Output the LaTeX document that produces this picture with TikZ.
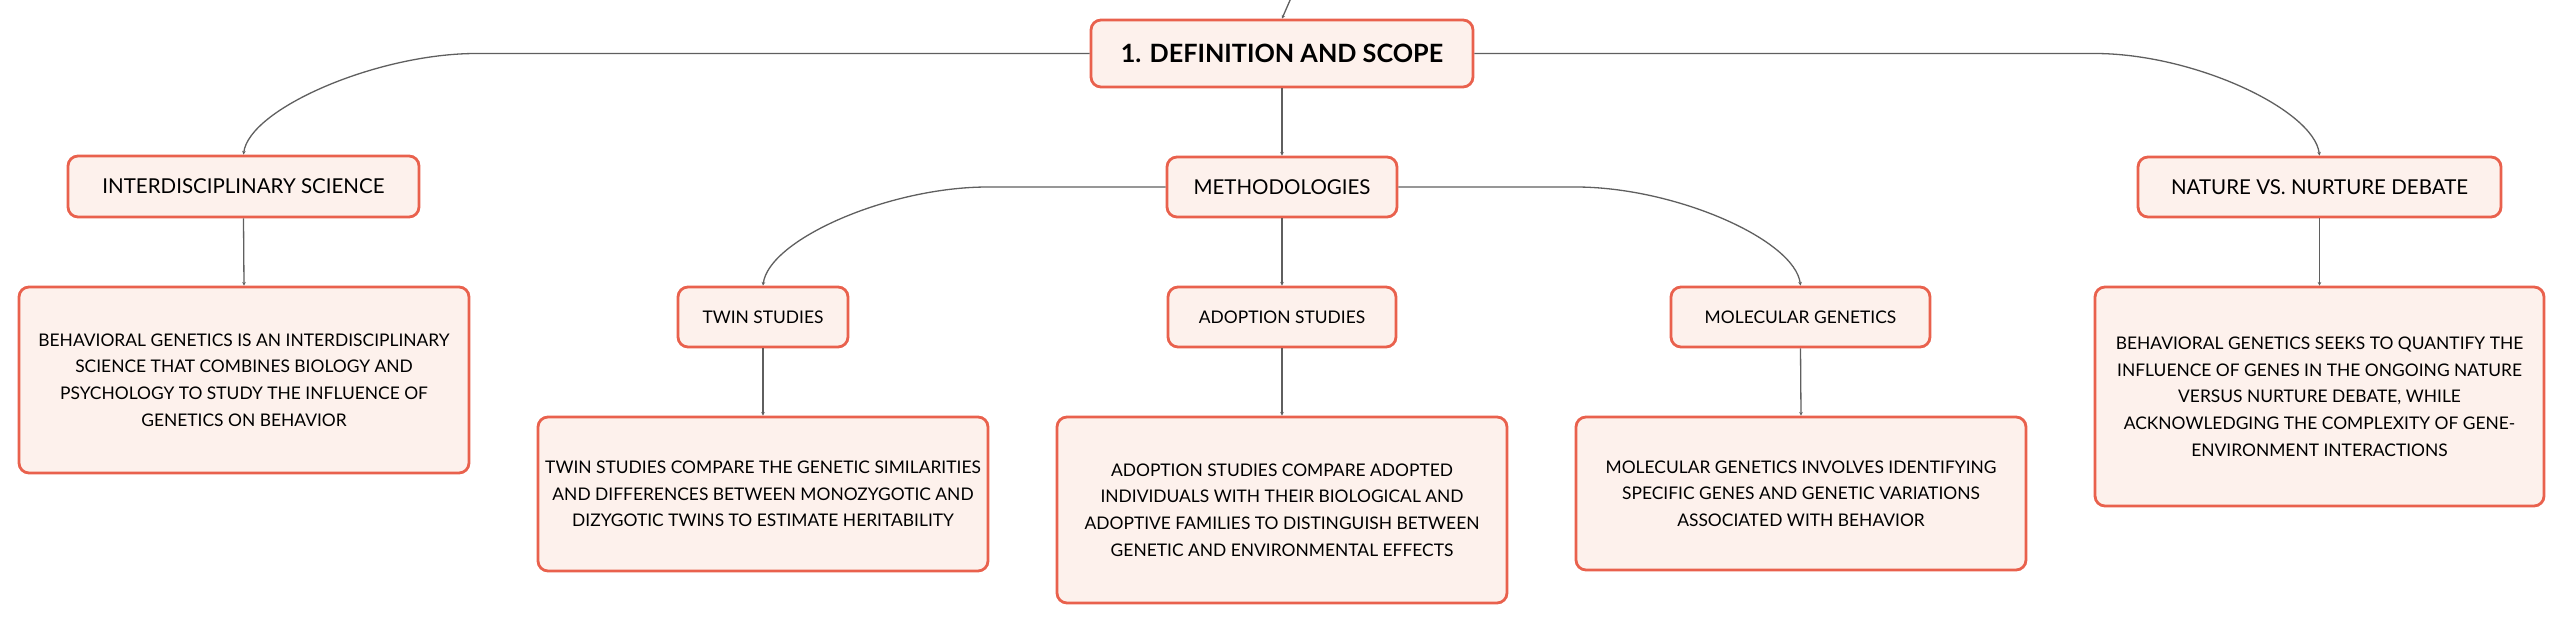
\documentclass[tikz,border=0pt]{standalone}
\usepackage{fontspec}
\setmainfont{Lato}
\usetikzlibrary{arrows.meta,calc}
\definecolor{boxline}{RGB}{233,97,77}
\definecolor{boxfill}{RGB}{253,241,236}
\definecolor{wire}{RGB}{95,95,95}
\tikzset{
  box/.style={draw=boxline, fill=boxfill, line width=1.4pt, rounded corners=5pt,
    inner sep=0pt, align=center, text=black},
  head/.style={box, font=\fontsize{10.25pt}{12pt}\selectfont},
  desc/.style={box, font=\fontsize{8.7pt}{13.35pt}\selectfont},
  link/.style={draw=wire, line width=0.65pt, -{Stealth[length=1.8pt,width=1.8pt]}},
  lcurve/.style={out=180, in=83, out distance=50pt, in distance=23pt},
  rcurve/.style={out=0, in=97, out distance=50pt, in distance=23pt},
}
\begin{document}
\begin{tikzpicture}[x=0.5pt, y=-0.5pt]
\useasboundingbox (0,0) rectangle (2565,624);

\node[box, font=\bfseries\fontsize{12.6pt}{15pt}\selectfont, minimum width=191pt, minimum height=33.5pt] (root) at (1282,53.5) {1. DEFINITION AND SCOPE};

\node[head, minimum width=175.5pt, minimum height=30.5pt] (inter) at (243.5,186.5) {INTERDISCIPLINARY SCIENCE};
\node[head, minimum width=115pt, minimum height=30pt] (meth) at (1282,187) {METHODOLOGIES};
\node[head, minimum width=181.5pt, minimum height=30pt] (nat) at (2319.5,187) {NATURE VS. NURTURE DEBATE};

\node[desc, minimum width=225pt, minimum height=93pt] (interD) at (244,380) {BEHAVIORAL GENETICS IS AN INTERDISCIPLINARY\\SCIENCE THAT COMBINES BIOLOGY AND\\PSYCHOLOGY TO STUDY THE INFLUENCE OF\\GENETICS ON BEHAVIOR};

\node[desc, minimum width=85pt, minimum height=30pt] (twin) at (763,317) {TWIN STUDIES};
\node[desc, minimum width=114pt, minimum height=30pt] (adopt) at (1282,317) {ADOPTION STUDIES};
\node[desc, minimum width=129.5pt, minimum height=30pt] (mol) at (1800.5,317) {MOLECULAR GENETICS};

\node[desc, minimum width=225pt, minimum height=77pt] (twinD) at (763,494) {TWIN STUDIES COMPARE THE GENETIC SIMILARITIES\\AND DIFFERENCES BETWEEN MONOZYGOTIC AND\\DIZYGOTIC TWINS TO ESTIMATE HERITABILITY};
\node[desc, minimum width=225pt, minimum height=93pt] (adoptD) at (1282,510) {ADOPTION STUDIES COMPARE ADOPTED\\INDIVIDUALS WITH THEIR BIOLOGICAL AND\\ADOPTIVE FAMILIES TO DISTINGUISH BETWEEN\\GENETIC AND ENVIRONMENTAL EFFECTS};
\node[desc, minimum width=225pt, minimum height=76.5pt] (molD) at (1801,493.5) {MOLECULAR GENETICS INVOLVES IDENTIFYING\\SPECIFIC GENES AND GENETIC VARIATIONS\\ASSOCIATED WITH BEHAVIOR};
\node[desc, minimum width=224.5pt, minimum height=109.5pt] (natD) at (2319.5,396.5) {BEHAVIORAL GENETICS SEEKS TO QUANTIFY THE\\INFLUENCE OF GENES IN THE ONGOING NATURE\\VERSUS NURTURE DEBATE, WHILE\\ACKNOWLEDGING THE COMPLEXITY OF GENE-\\ENVIRONMENT INTERACTIONS};

\coordinate (top) at (1291,-2);
\draw[link] (top) -- (root.north);
\draw[link] (root.south) -- (meth.north);
\draw[link] (root.west) -- ($(inter.north |- root.west)+(233,0)$) to[lcurve] (inter.north);
\draw[link] (root.east) -- ($(nat.north |- root.east)+(-225,0)$) to[rcurve] (nat.north);
\draw[link] (meth.west) -- ($(twin.north |- meth.west)+(225,0)$) to[lcurve] (twin.north);
\draw[link] (meth.east) -- ($(mol.north |- meth.east)+(-225,0)$) to[rcurve] (mol.north);
\draw[link] (meth.south) -- (adopt.north);
\draw[link] (inter.south) -- (interD.north);
\draw[link] (twin.south) -- (twinD.north);
\draw[link] (adopt.south) -- (adoptD.north);
\draw[link] (mol.south) -- (molD.north);
\draw[link] (nat.south) -- (natD.north);
\end{tikzpicture}
\end{document}
